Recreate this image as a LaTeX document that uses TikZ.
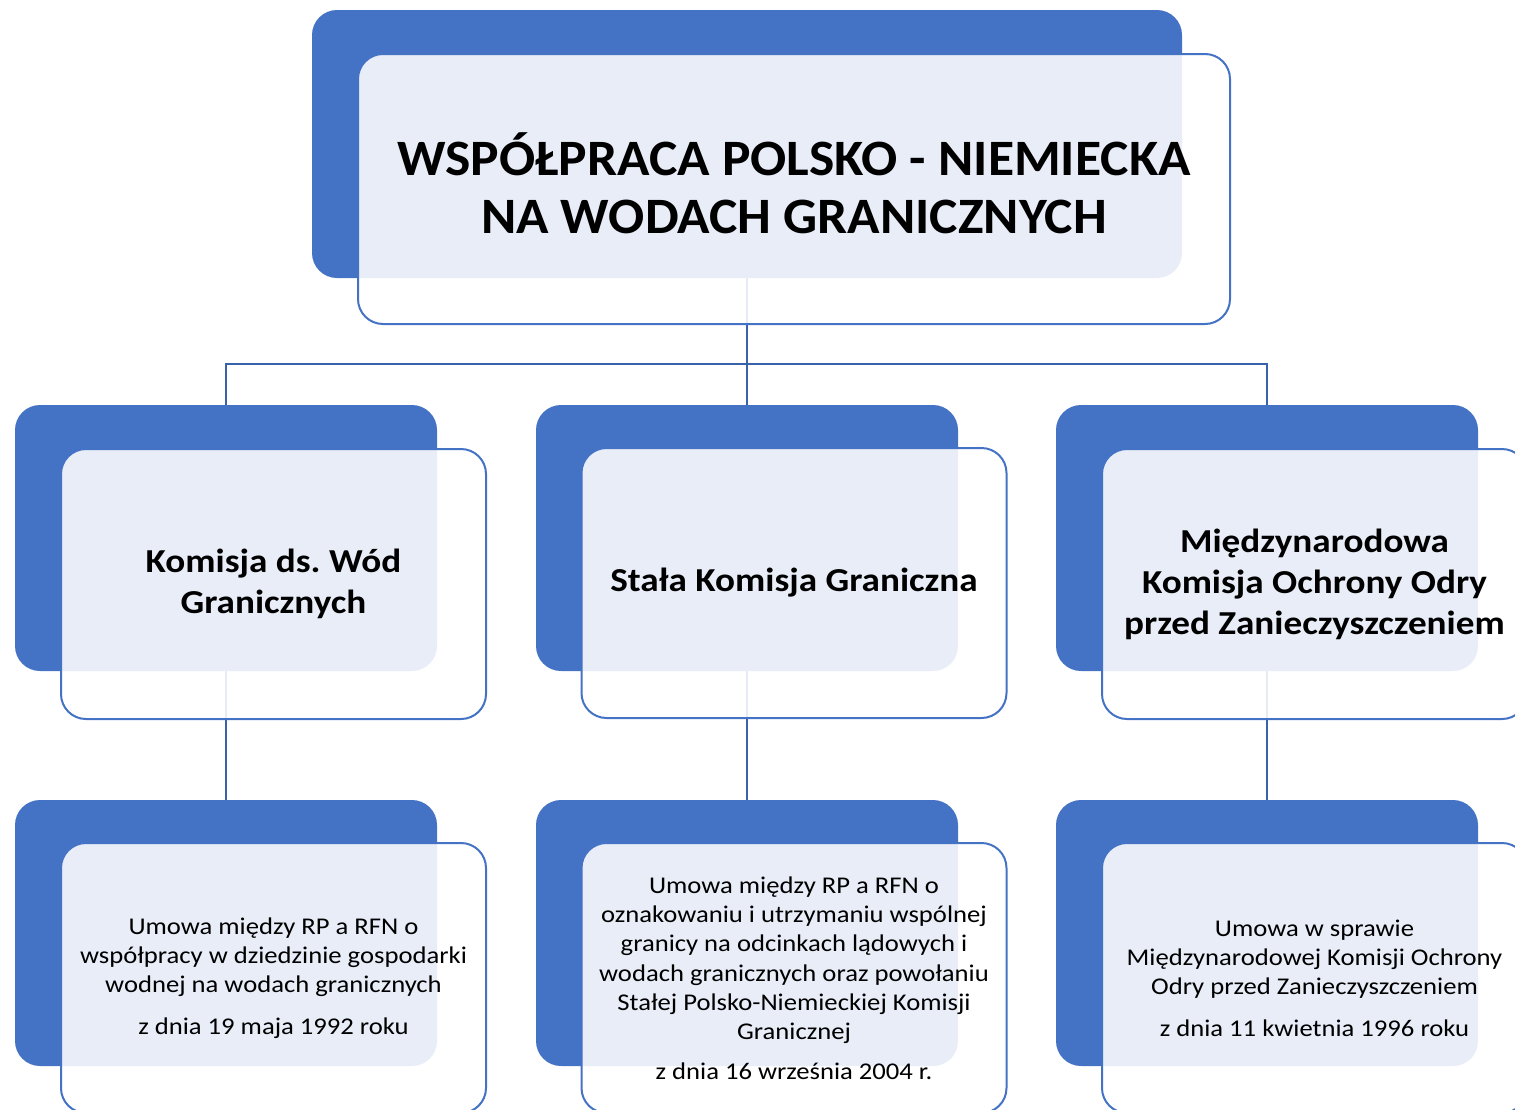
\documentclass[tikz,border=0pt]{standalone}
\usepackage{fontspec}
\setmainfont{Carlito}[FakeStretch=1.11]
\newfontfamily\titlefam{Carlito}[FakeStretch=1.05]
\frenchspacing
\definecolor{accent}{HTML}{4472C4}
\definecolor{conn}{HTML}{3A62AC}
\tikzset{
  backbox/.style={draw=none, fill=accent, rounded corners=25pt, inner sep=0pt},
  frontbox/.style={draw=accent, line width=2pt, fill=white, fill opacity=0.88, text opacity=1,
    rounded corners=25pt, inner sep=0pt, align=center, text=black},
  connline/.style={draw=conn, line width=2pt},
  titlefont/.style={font=\titlefam\fontsize{51}{58}\selectfont\bfseries},
  midfont/.style={font=\fontsize{33.5}{41}\selectfont\bfseries},
  lowfont/.style={font=\fontsize{24}{29.3}\selectfont},
}
\begin{document}
\begin{tikzpicture}[x=1pt,y=-1pt]
\useasboundingbox (0,0) rectangle (1515,1109);
% back boxes
\node[backbox, minimum width=870pt, minimum height=268pt] (tb) at (747,144) {};
\node[backbox, minimum width=422pt, minimum height=266pt] (lb) at (226,538) {};
\node[backbox, minimum width=422pt, minimum height=266pt] (mb) at (747,538) {};
\node[backbox, minimum width=422pt, minimum height=266pt] (rb) at (1267,538) {};
\node[backbox, minimum width=422pt, minimum height=266pt] (llb) at (226,933) {};
\node[backbox, minimum width=422pt, minimum height=266pt] (mlb) at (747,933) {};
\node[backbox, minimum width=422pt, minimum height=266pt] (rlb) at (1267,933) {};
% connectors
\coordinate (j) at (747,364);
\draw[connline] (tb.south) -- (j);
\draw[connline] (j) -| (lb.north);
\draw[connline] (j) -- (mb.north);
\draw[connline] (j) -| (rb.north);
\draw[connline] (lb.south) -- (llb.north);
\draw[connline] (mb.south) -- (mlb.north);
\draw[connline] (rb.south) -- (rlb.north);
% front boxes
\node[frontbox, titlefont, text depth=12pt, minimum width=872pt, minimum height=270pt] (tf) at (794,189)
  {WSPÓŁPRACA POLSKO - NIEMIECKA\\NA WODACH GRANICZNYCH};
\node[frontbox, midfont, minimum width=425pt, minimum height=270pt] (lf) at (273.5,584)
  {Komisja ds. Wód\\Granicznych};
\node[frontbox, midfont, minimum width=425pt, minimum height=270pt] (mf) at (794,583)
  {Stała Komisja Graniczna};
\node[frontbox, midfont, minimum width=425pt, minimum height=270pt] (rf) at (1314.5,584)
  {Międzynarodowa\\Komisja Ochrony Odry\\przed Zanieczyszczeniem};
\node[frontbox, lowfont, minimum width=425pt, minimum height=270pt] (llf) at (273.5,978)
  {Umowa między RP a RFN o\\współpracy w dziedzinie gospodarki\\wodnej na wodach granicznych\\[12pt]z dnia 19 maja 1992 roku};
\node[frontbox, lowfont, minimum width=425pt, minimum height=270pt] (mlf) at (794,978)
  {Umowa między RP a RFN o\\oznakowaniu i utrzymaniu wspólnej\\granicy na odcinkach lądowych i\\wodach granicznych oraz powołaniu\\Stałej Polsko-Niemieckiej Komisji\\Granicznej\\[10pt]z dnia 16 września 2004 r.};
\node[frontbox, lowfont, minimum width=425pt, minimum height=270pt] (rlf) at (1314.5,978)
  {Umowa w sprawie\\Międzynarodowej Komisji Ochrony\\Odry przed Zanieczyszczeniem\\[12pt]z dnia 11 kwietnia 1996 roku};
\end{tikzpicture}
\end{document}
